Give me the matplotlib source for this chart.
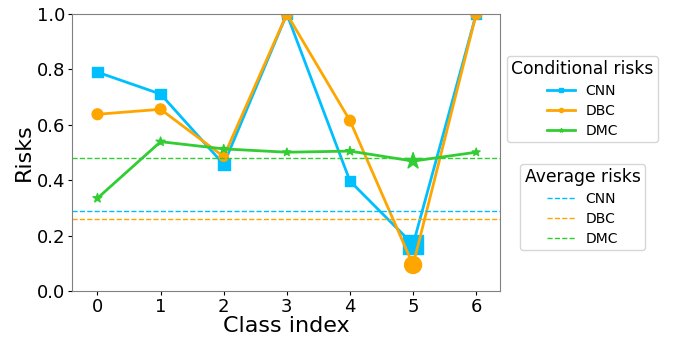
import matplotlib
matplotlib.use("Agg")
import matplotlib.pyplot as plt
import numpy as np

classes = [0, 1, 2, 3, 4, 5, 6]
cnn = [0.79, 0.711, 0.457, 1.0, 0.397, 0.168, 1.0]
dbc = [0.638, 0.656, 0.485, 1.0, 0.615, 0.094, 1.0]
dmc = [0.335, 0.539, 0.513, 0.501, 0.505, 0.469, 0.501]
avg = {"CNN": 0.290, "DBC": 0.261, "DMC": 0.481}

# marker sizes (points^2) per class
cnn_s = [55, 55, 70, 55, 55, 200, 55]
dbc_s = [60, 60, 45, 60, 60, 150, 60]
dmc_s = [45, 45, 40, 35, 45, 150, 35]

colors = {"CNN": "#00BFFF", "DBC": "#FFA500", "DMC": "#32CD32"}
markers = {"CNN": "s", "DBC": "o", "DMC": "*"}

fig = plt.figure(figsize=(6.75, 3.39), dpi=100)
ax = fig.add_axes([0.107, 0.1416, 0.634, 0.8171])

cond = []
for name, vals, sizes in [("CNN", cnn, cnn_s), ("DBC", dbc, dbc_s), ("DMC", dmc, dmc_s)]:
    h, = ax.plot(classes, vals, "-", marker=markers[name], ms=3, color=colors[name], lw=2, label=name)
    ax.scatter(classes, vals, s=sizes, marker=markers[name], color=colors[name], zorder=h.get_zorder())
    cond.append(h)

av = []
for name in ["CNN", "DBC", "DMC"]:
    h = ax.axhline(avg[name], color=colors[name], ls="--", lw=1, label=name)
    av.append(h)

ax.set_xlim(-0.4, 6.38)
ax.set_ylim(0, 1)
ax.set_xticks(classes)
ax.set_yticks([0, 0.2, 0.4, 0.6, 0.8, 1.0])
ax.tick_params(labelsize=13, length=3, pad=2)
ax.set_xlabel("Class index", fontsize=16, labelpad=0)
ax.set_ylabel("Risks", fontsize=16, labelpad=2)
for sp in ax.spines.values():
    sp.set_color("#808080")

fig.legend(handles=cond, title="Conditional risks", loc="upper center",
           bbox_to_anchor=(0.863, 0.855), fontsize=10, title_fontsize=12.3,
           borderpad=0.3, labelspacing=0.42)
fig.legend(handles=av, title="Average risks", loc="upper center",
           bbox_to_anchor=(0.863, 0.536), fontsize=10, title_fontsize=12.3,
           borderpad=0.3, labelspacing=0.42)

fig.savefig("out.png", dpi=100)
